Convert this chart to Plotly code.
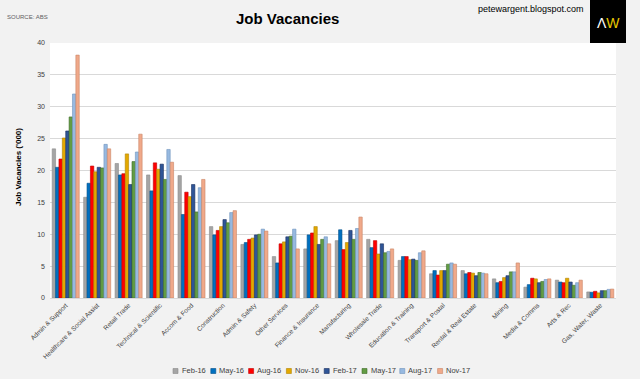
import plotly.graph_objects as go

categories = ["Admin & Support", "Healthcare & Social Assist", "Retail Trade", "Technical & Scientific",
              "Accom & Food", "Construction", "Admin & Safety", "Other Services", "Finance & Insurance",
              "Manufacturing", "Wholesale Trade", "Education & Training", "Transport & Postal",
              "Rental & Real Estate", "Mining", "Media & Comms", "Arts & Rec", "Gas, Water, Waste"]

feb16 = [23.4, 15.8, 21.1, 19.3, 19.2, 11.2, 8.4, 6.5, 7.7, 9.0, 9.2, 5.9, 3.8, 4.3, 3.0, 1.7, 2.8, 0.95]
may16 = [20.5, 18.0, 19.3, 16.8, 13.1, 9.9, 8.7, 5.5, 9.9, 10.7, 7.9, 6.5, 4.3, 3.8, 2.4, 2.1, 2.5, 0.9]
aug16 = [21.8, 20.7, 19.5, 21.2, 16.6, 10.6, 9.2, 8.5, 10.2, 7.6, 9.0, 6.5, 3.6, 4.0, 2.6, 3.1, 2.4, 1.05]
nov16 = [25.1, 19.8, 22.6, 20.2, 15.9, 11.2, 9.4, 8.8, 11.2, 8.7, 6.9, 6.0, 4.3, 3.9, 3.2, 3.0, 3.1, 0.8]
feb17 = [26.2, 20.5, 17.8, 21.0, 17.8, 12.3, 9.9, 9.6, 8.4, 10.6, 8.5, 6.1, 4.3, 3.5, 3.5, 2.4, 2.5, 1.15]
may17 = [28.4, 20.4, 21.4, 18.6, 13.5, 11.8, 10.0, 9.7, 9.2, 9.2, 7.1, 5.9, 5.3, 4.0, 4.1, 2.6, 2.0, 1.15]
aug17 = [32.0, 24.1, 22.9, 23.3, 17.3, 13.4, 10.8, 10.8, 9.6, 10.9, 7.3, 7.1, 5.5, 3.9, 4.1, 2.9, 2.4, 1.35]
nov17 = [38.1, 23.4, 25.7, 21.3, 18.6, 13.7, 10.5, 7.7, 8.5, 12.7, 7.7, 7.4, 5.3, 3.8, 5.5, 3.0, 2.8, 1.4]

series_names = ["Feb-16", "May-16", "Aug-16", "Nov-16", "Feb-17", "May-17", "Aug-17", "Nov-17"]
series_values = [feb16, may16, aug16, nov16, feb17, may17, aug17, nov17]
colors = ["#a5a5a5", "#0070c0", "#ff0000", "#e3a800", "#2f5597", "#629c44", "#97b9e0", "#f0a98a"]
line_colors = ["#8c8c8c", "#004f8a", "#c00000", "#b08300", "#1a2f5f", "#3f6b2a", "#6f93bd", "#c98464"]

y_ticks = [0, 5, 10, 15, 20, 25, 30, 35, 40]

W, H = 640, 379
ML, MR, MT, MB = 50, 24, 43, 81
PW, PH = W - ML - MR, H - MT - MB


def px_x(x):
    return (x - ML) / PW


def px_y(y_from_top):
    return (H - y_from_top - MB) / PH


fig = go.Figure()
for name, vals, c, lc in zip(series_names, series_values, colors, line_colors):
    fig.add_trace(go.Bar(x=categories, y=vals, name=name, showlegend=False,
                         marker=dict(color=c, line=dict(color=lc, width=0.6))))

base_font = "Liberation Sans, Arial, sans-serif"

annotations = [
    dict(text="<b>Job Vacancies</b>", x=px_x(287), y=px_y(19), font=dict(size=15, color="#000000")),
    dict(text="SOURCE: ABS", x=px_x(5), y=px_y(17), xanchor="left",
         font=dict(size=6, color="#606060")),
    dict(text="petewargent.blogspot.com", x=px_x(586), y=px_y(9), xanchor="right",
         font=dict(size=9, color="#000000")),
    dict(text="<span style='color:#ffffff'>Λ</span><span style='color:#e8c800'>W</span>",
         x=px_x(608), y=px_y(23), font=dict(size=14)),
    dict(text="<b>Job Vacancies ('000)</b>", x=px_x(18), y=px_y(167), textangle=-90,
         font=dict(size=8, color="#000000")),
]

shapes = [dict(type="rect", xref="paper", yref="paper",
               x0=px_x(590), x1=px_x(626), y0=px_y(43), y1=px_y(0),
               fillcolor="#000000", line=dict(width=0), layer="above")]

# custom legend (square + label) laid out like the original
leg_x0, leg_dx, leg_y = 173, 37.8, 371
for i, (name, c, lc) in enumerate(zip(series_names, colors, line_colors)):
    x = leg_x0 + leg_dx * i
    shapes.append(dict(type="rect", xref="paper", yref="paper",
                       x0=px_x(x), x1=px_x(x + 5), y0=px_y(leg_y + 2.5), y1=px_y(leg_y - 2.5),
                       fillcolor=c, line=dict(color=lc, width=0.6)))
    annotations.append(dict(text=name, x=px_x(x + 6.5), y=px_y(leg_y), xanchor="left",
                            font=dict(size=7.5, color="#404040")))

for a in annotations:
    a.setdefault("xref", "paper")
    a.setdefault("yref", "paper")
    a.setdefault("showarrow", False)
    a.setdefault("xanchor", "center")
    a.setdefault("yanchor", "middle")

fig.update_layout(
    width=W, height=H,
    paper_bgcolor="#f2f2f2", plot_bgcolor="#ffffff",
    margin=dict(l=ML, r=MR, t=MT, b=MB, autoexpand=False),
    barmode="group", bargap=0.14, bargroupgap=0,
    font=dict(family=base_font, size=7, color="#404040"),
    showlegend=False,
    xaxis=dict(tickangle=-45, tickfont=dict(size=6.5, color="#404040"), showgrid=False,
               showline=True, linecolor="#d9d9d9", ticks="", automargin=False),
    yaxis=dict(range=[0, 40], tickvals=y_ticks, ticktext=[str(v) for v in y_ticks],
               showgrid=True, gridcolor="#d9d9d9", gridwidth=1, zeroline=False,
               tickfont=dict(size=7, color="#404040"), ticks="", ticklabelstandoff=4,
               automargin=False),
    annotations=annotations,
    shapes=shapes,
)

fig.write_html("out.html", config={"displayModeBar": False},
               post_script="document.body.style.margin='0';")
